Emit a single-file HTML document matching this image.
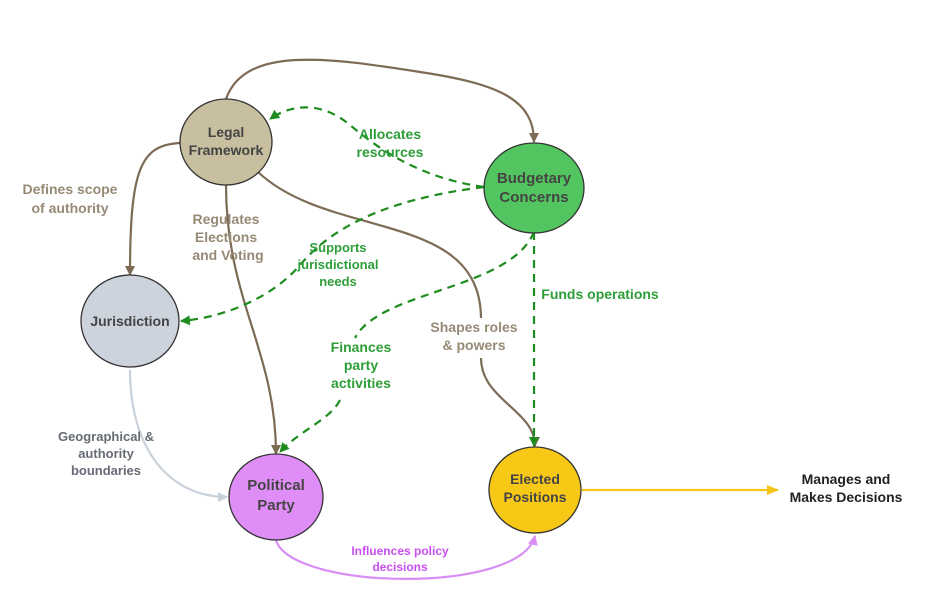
<!DOCTYPE html>
<html><head><meta charset="utf-8"><style>
html,body{margin:0;padding:0;background:#fff;}
svg{display:block;font-family:"Liberation Sans",Arial,sans-serif;font-weight:bold;}
</style></head><body>
<svg width="941" height="608" viewBox="0 0 941 608" xmlns="http://www.w3.org/2000/svg">
<defs>
<marker id="ab" markerWidth="10" markerHeight="10" refX="9" refY="5" orient="auto" markerUnits="userSpaceOnUse"><path d="M0,0 L10,5 L0,10 z" fill="#7d6b55"/></marker>
<marker id="ag" markerWidth="10" markerHeight="10" refX="9" refY="5" orient="auto" markerUnits="userSpaceOnUse"><path d="M0,0 L10,5 L0,10 z" fill="#1e8c1e"/></marker>
<marker id="ay" markerWidth="12" markerHeight="10" refX="11" refY="5" orient="auto" markerUnits="userSpaceOnUse"><path d="M0,0 L12,5 L0,10 z" fill="#f5c518"/></marker>
<marker id="ap" markerWidth="10" markerHeight="10" refX="9" refY="5" orient="auto" markerUnits="userSpaceOnUse"><path d="M0,0 L10,5 L0,10 z" fill="#d98ef5"/></marker>
<marker id="al" markerWidth="10" markerHeight="10" refX="9" refY="5" orient="auto" markerUnits="userSpaceOnUse"><path d="M0,0 L10,5 L0,10 z" fill="#c9d1da"/></marker>
</defs>
<g fill="none" stroke-width="2.2">
<path d="M226,99 C245,45 330,58 420,72 C500,84 534,100 534,142" stroke="#7d6b55" marker-end="url(#ab)"/>
<path d="M180,143 C140,145 130,170 130,275" stroke="#7d6b55" marker-end="url(#ab)"/>
<path d="M226,185 C226,300 276,350 276,454" stroke="#7d6b55" marker-end="url(#ab)"/>
<path d="M258,172 C330,240 480,210 481,318" stroke="#7d6b55"/>
<path d="M481,358 C481,400 535,410 535,446" stroke="#7d6b55" marker-end="url(#ab)"/>
<g stroke="#1e8c1e" stroke-dasharray="8,6">
<path d="M484,187 C420,178 380,150 350,125 C320,100 290,105 270,119" marker-end="url(#ag)"/>
<path d="M484,187 C380,200 330,230 300,265 C270,300 220,318 181,321" marker-end="url(#ag)"/>
<path d="M534,232 C510,290 380,290 355,338 M340,400 C330,420 300,430 280,452" marker-end="url(#ag)"/>
<path d="M534,232 L534,446" marker-end="url(#ag)"/>
</g>
<path d="M130,370 C130,450 170,497 227,497" stroke="#c9d1da" marker-end="url(#al)"/>
<path d="M276,540 C290,590 520,595 535,536" stroke="#d98ef5" marker-end="url(#ap)"/>
<path d="M582,490 L778,490" stroke="#f5c518" marker-end="url(#ay)"/>
</g>
<g stroke="#333" stroke-width="1.3">
<ellipse cx="226" cy="142" rx="46" ry="43" fill="#c8bea0"/>
<ellipse cx="534" cy="188" rx="50" ry="45" fill="#52c560"/>
<ellipse cx="130" cy="321" rx="49" ry="46" fill="#cdd3dc"/>
<ellipse cx="276" cy="497" rx="47" ry="43" fill="#e08ef7"/>
<ellipse cx="535" cy="490" rx="46" ry="43" fill="#f7c815"/>
</g>
<g text-anchor="middle" fill="#444" font-size="14">
<text x="226" y="137">Legal</text><text x="226" y="155">Framework</text>
<text x="534" y="183" font-size="15">Budgetary</text><text x="534" y="202" font-size="15">Concerns</text>
<text x="130" y="326">Jurisdiction</text>
<text x="276" y="490" font-size="15">Political</text><text x="276" y="510" font-size="15">Party</text>
<text x="535" y="484">Elected</text><text x="535" y="502">Positions</text>
</g>
<g text-anchor="middle" font-size="14" fill="#968a76">
<text x="70" y="194">Defines scope</text><text x="70" y="213">of authority</text>
<text x="226" y="224">Regulates</text><text x="226" y="242">Elections</text><text x="228" y="260">and Voting</text>
<text x="474" y="332">Shapes roles</text><text x="474" y="350">&amp; powers</text>
</g>
<g text-anchor="middle" font-size="14" fill="#2e9e38">
<text x="390" y="139">Allocates</text><text x="390" y="157">resources</text>
<text x="338" y="252" font-size="13">Supports</text><text x="338" y="269" font-size="13">jurisdictional</text><text x="338" y="286" font-size="13">needs</text>
<text x="361" y="352">Finances</text><text x="361" y="370">party</text><text x="361" y="388">activities</text>
<text x="600" y="299" text-anchor="middle">Funds operations</text>
</g>
<g text-anchor="middle" font-size="13" fill="#666b75">
<text x="106" y="441">Geographical &amp;</text><text x="106" y="458">authority</text><text x="106" y="475">boundaries</text>
</g>
<g text-anchor="middle" font-size="12" fill="#c94ff0">
<text x="400" y="555">Influences policy</text><text x="400" y="571">decisions</text>
</g>
<g text-anchor="middle" font-size="14" fill="#222">
<text x="846" y="484">Manages and</text><text x="846" y="502">Makes Decisions</text>
</g>
</svg>
</body></html>
